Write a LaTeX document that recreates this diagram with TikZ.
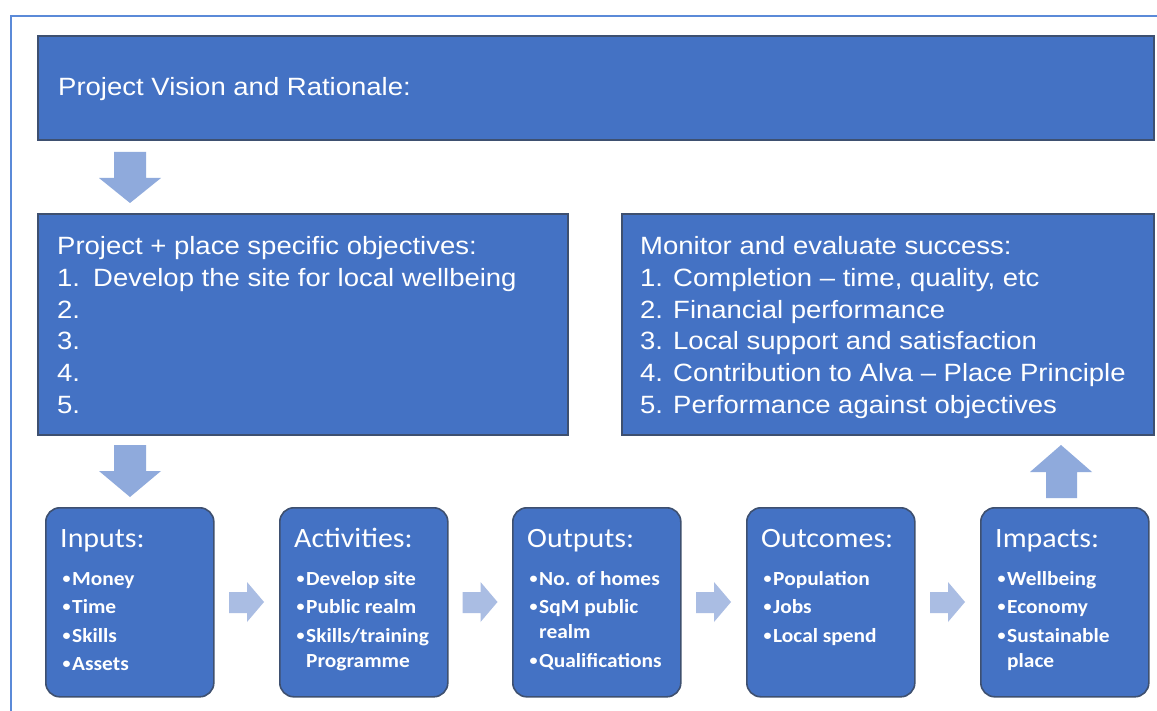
\documentclass[tikz,border=0pt]{standalone}
\usepackage{fontspec}
\newfontfamily\arialf[FakeStretch=1.1]{Liberation Sans}
\newfontfamily\calf[FakeStretch=1.07]{Carlito}
\usetikzlibrary{calc}
\definecolor{boxblue}{HTML}{4472C4}
\definecolor{boxedge}{HTML}{3E5070}
\definecolor{arrowv}{HTML}{8FAADC}
\definecolor{arrowh}{HTML}{AABDE3}
\definecolor{framec}{HTML}{5B8AD8}
\newcommand\bulmark{\makebox[11pt][r]{\raisebox{1.6pt}{\fontsize{15}{15}\selectfont•}\hspace{1.5pt}}}
\begin{document}
\begin{tikzpicture}[x=1pt,y=-1pt,
  sqbox/.style={draw=boxedge, line width=1.6pt, fill=boxblue, inner sep=0pt, anchor=north west},
  rbox/.style={sqbox, rounded corners=14pt, minimum width=168pt, minimum height=189pt},
  txt/.style={text=white, inner sep=0pt, anchor=base west},
  bigtxt/.style={txt, font=\arialf\fontsize{25}{30}\selectfont},
  headtxt/.style={txt, font=\calf\fontsize{28}{32}\selectfont},
  bultxt/.style={txt, font=\calf\bfseries\fontsize{20}{24}\selectfont}]
\useasboundingbox (0,0) rectangle (1157,711);
\fill[white] (0,0) rectangle (1157,711);
\draw[framec, line width=1.8pt] (11,711) -- (11,16) -- (1157,16);

% top box
\node[sqbox, minimum width=1116pt, minimum height=104pt] (vision) at (37,35) {};
\node[bigtxt] (visiontxt) at ($(vision.north west)+(21,61)$) {Project Vision and Rationale:};

% middle boxes
\node[sqbox, minimum width=530pt, minimum height=221pt] (obj) at (37,213) {};
\node[sqbox, minimum width=532pt, minimum height=221pt] (mon) at (621,213) {};

\node[bigtxt] (objh) at ($(obj.north west)+(20,42)$) {Project + place specific objectives:};
\foreach \k in {1,...,5}{
  \node[bigtxt] (objn\k) at ($(obj.north west)+(20,{42+31.6*\k})$) {\k.};
  \node[bigtxt] (monn\k) at ($(mon.north west)+(19,{42+31.6*\k})$) {\k.};
}
\node[bigtxt] (objt1) at ($(obj.north west)+(56,{42+31.6*1})$) {Develop the site for local wellbeing};

\node[bigtxt] (monh) at ($(mon.north west)+(19,42)$) {Monitor and evaluate success:};
\node[bigtxt] (mont1) at ($(mon.north west)+(52,{42+31.6*1})$) {Completion – time, quality, etc};
\node[bigtxt] (mont2) at ($(mon.north west)+(52,{42+31.6*2})$) {Financial performance};
\node[bigtxt] (mont3) at ($(mon.north west)+(52,{42+31.6*3})$) {Local support and satisfaction};
\node[bigtxt] (mont4) at ($(mon.north west)+(52,{42+31.6*4})$) {Contribution to Alva – Place Principle};
\node[bigtxt] (mont5) at ($(mon.north west)+(52,{42+31.6*5})$) {Performance against objectives};

% bottom boxes
\node[rbox] (inp) at (45,507) {};
\node[rbox] (act) at (279,507) {};
\node[rbox] (out) at (512,507) {};
\node[rbox] (occ) at (746,507) {};
\node[rbox] (imp) at (980,507) {};

\node[headtxt] (inph) at ($(inp.north west)+(15,40)$) {Inputs:};
\node[bultxt] (inp1) at ($(inp.north west)+(16,78)$) {\bulmark Money};
\node[bultxt] (inp2) at ($(inp.north west)+(16,106)$) {\bulmark Time};
\node[bultxt] (inp3) at ($(inp.north west)+(16,135)$) {\bulmark Skills};
\node[bultxt] (inp4) at ($(inp.north west)+(16,163)$) {\bulmark Assets};

\node[headtxt] (acth) at ($(act.north west)+(15,40)$) {Activities:};
\node[bultxt] (act1) at ($(act.north west)+(16,78)$) {\bulmark Develop site};
\node[bultxt] (act2) at ($(act.north west)+(16,106)$) {\bulmark Public realm};
\node[bultxt] (act3) at ($(act.north west)+(16,135)$) {\bulmark Skills/training};
\node[bultxt] (act3b) at ($(act.north west)+(27,160)$) {Programme};

\node[headtxt] (outh) at ($(out.north west)+(15,40)$) {Outputs:};
\node[bultxt] (out1) at ($(out.north west)+(16,78)$) {\bulmark No. of homes};
\node[bultxt] (out2) at ($(out.north west)+(16,106)$) {\bulmark SqM public};
\node[bultxt] (out2b) at ($(out.north west)+(27,131)$) {realm};
\node[bultxt] (out3) at ($(out.north west)+(16,160)$) {\bulmark Qualifications};

\node[headtxt] (occh) at ($(occ.north west)+(15,40)$) {Outcomes:};
\node[bultxt] (occ1) at ($(occ.north west)+(16,78)$) {\bulmark Population};
\node[bultxt] (occ2) at ($(occ.north west)+(16,106)$) {\bulmark Jobs};
\node[bultxt] (occ3) at ($(occ.north west)+(16,135)$) {\bulmark Local spend};

\node[headtxt] (imph) at ($(imp.north west)+(15,40)$) {Impacts:};
\node[bultxt] (imp1) at ($(imp.north west)+(16,78)$) {\bulmark Wellbeing};
\node[bultxt] (imp2) at ($(imp.north west)+(16,106)$) {\bulmark Economy};
\node[bultxt] (imp3) at ($(imp.north west)+(16,135)$) {\bulmark Sustainable};
\node[bultxt] (imp3b) at ($(imp.north west)+(27,160)$) {place};

% block arrows
\fill[arrowv] (114,152) -- (146,152) -- (146,178) -- (161,178) -- (130,203) -- (99,178) -- (114,178) -- cycle;
\fill[arrowv] (114,445) -- (146,445) -- (146,471) -- (161,471) -- (130,497) -- (99,471) -- (114,471) -- cycle;
\fill[arrowv] (1046,498) -- (1077,498) -- (1077,472) -- (1092,472) -- (1061,445) -- (1030,472) -- (1046,472) -- cycle;
\foreach \c in {246,479.5,713,947}{
  \fill[arrowh] ({\c-17},592) -- ({\c+1},592) -- ({\c+1},582) -- ({\c+18},602) -- ({\c+1},622) -- ({\c+1},613) -- ({\c-17},613) -- cycle;
}
\end{tikzpicture}
\end{document}
